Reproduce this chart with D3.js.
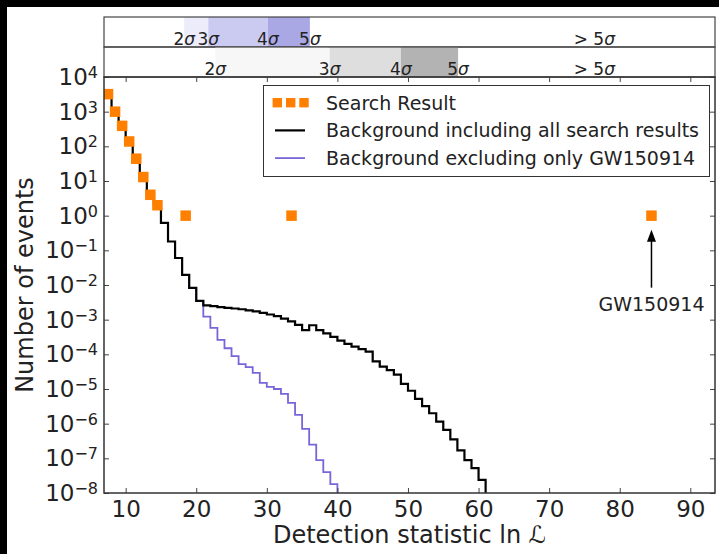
<!DOCTYPE html>
<html>
<head>
<meta charset="utf-8">
<script src="https://cdn.jsdelivr.net/npm/d3@7"></script>
<style>
  html, body { margin: 0; padding: 0; background: #000; }
  svg { display: block; font-family: "DejaVu Sans", sans-serif; }
</style>
</head>
<body>
<svg id="chart" width="719" height="554"></svg>
<script>
// search result counts, one per bin centre (ln L)
const searchX = [7.5, 8.5, 9.5, 10.5, 11.5, 12.5, 13.5, 14.5, 18.5, 33.5, 84.5];
const searchN = [3200, 1000, 390, 138, 44, 13, 4, 2, 1, 1, 1];

// background, unit-width bins starting at ln L = 7
const bgAllStart = 7;
const bgAll = [
  3.2e3, 1.0e3, 3.9e2, 1.4e2, 44, 13, 4.0, 2.0,
  0.62, 0.18, 6.0e-2, 1.95e-2, 8.3e-3, 3.5e-3, 2.6e-3, 2.45e-3,
  2.3e-3, 2.2e-3, 2.1e-3, 2.0e-3, 1.86e-3, 1.74e-3, 1.58e-3, 1.41e-3,
  1.26e-3, 1.07e-3, 8.9e-4, 7.1e-4, 5.0e-4, 6.9e-4, 5.0e-4, 4.0e-4,
  3.2e-4, 2.5e-4, 2.0e-4, 1.66e-4, 1.41e-4, 1.2e-4, 6.3e-5, 4.4e-5,
  3.5e-5, 2.6e-5, 1.4e-5, 8.9e-6, 5.2e-6, 3.2e-6, 2.0e-6, 1.15e-6,
  6.6e-7, 3.5e-7, 1.7e-7, 8.9e-8, 5.2e-8, 2.4e-8
];

// background with GW150914 removed, bins starting at ln L = 18
const bgNoGWStart = 18;
const bgNoGW = [
  1.95e-2, 8.3e-3, 3.5e-3, 1.23e-3, 5.8e-4, 2.6e-4, 1.5e-4, 8.9e-5,
  5.2e-5, 4.3e-5, 2.9e-5, 1.5e-5, 1.15e-5, 1.0e-5, 7.2e-6, 4.0e-6,
  1.8e-6, 7.1e-7, 2.5e-7, 8.9e-8, 4.0e-8, 1.8e-8
];

// significance thresholds in ln L for 2, 3, 4, 5 sigma
const sigmaLabels = ["2σ", "3σ", "4σ", "5σ"];
const sigmaNoGW = [18.3, 21.7, 30.15, 36.1];
const sigmaAll = [22.7, 38.9, 49.0, 57.1];
const beyondLabelX = 76.4;

const xTicks = [10, 20, 30, 40, 50, 60, 70, 80, 90];
const yExps = d3.range(-8, 5);

const W = 719, H = 554;
const margin = {left: 104, right: 4, top: 77, bottom: 61};
const plotR = W - margin.right, plotB = H - margin.bottom;
const bandH = 30;

const svg = d3.select("#chart");
svg.append("rect").attr("x", 7).attr("y", 7).attr("width", W - 7).attr("height", H - 7).attr("fill", "#fff");

const x = d3.scaleLinear().domain([6.93, 93.5]).range([margin.left, plotR]);
const y = d3.scaleLog().domain([1e-8, 1e4]).range([plotB, margin.top]);

// sigma bands above the plot
const bands = [
  {top: margin.top - 2 * bandH, th: sigmaNoGW, fills: ["#ececfa", "#cbcbf2", "#a9a7e4"]},
  {top: margin.top - bandH, th: sigmaAll, fills: ["#f7f7f7", "#dedede", "#b3b3b3"]}
];
bands.forEach(b => {
  const g = svg.append("g");
  g.selectAll("rect.shade")
    .data(b.th.slice(0, 3))
    .enter().append("rect")
      .attr("x", (d) => x(d))
      .attr("y", b.top)
      .attr("width", (d, i) => x(b.th[i + 1]) - x(d))
      .attr("height", bandH)
      .attr("fill", (d, i) => b.fills[i]);
  g.append("rect")
    .attr("x", margin.left).attr("y", b.top)
    .attr("width", plotR - margin.left).attr("height", bandH)
    .attr("fill", "none").attr("stroke", "#444").attr("stroke-width", 1.2);
  const lab = b.th.map((t, i) => ({x: t, s: sigmaLabels[i]})).concat([{x: beyondLabelX, s: "> 5σ"}]);
  lab.forEach(l => {
    const t = g.append("text")
      .attr("x", x(l.x)).attr("y", b.top + bandH - 2)
      .attr("text-anchor", "middle").attr("font-size", 17).attr("fill", "#222");
    const m = l.s.match(/^(.*?)(σ)$/);
    t.append("tspan").text(m[1]);
    t.append("tspan").attr("font-style", "italic").text(m[2]);
  });
});

svg.append("defs").append("clipPath").attr("id", "plotclip")
  .append("rect").attr("x", margin.left).attr("y", margin.top)
  .attr("width", plotR - margin.left).attr("height", plotB - margin.top);

// step path for a binned series, dropping to the floor after the last bin
function stepPath(start, vals) {
  let d = "";
  vals.forEach((v, i) => {
    const x0 = x(start + i), x1 = x(start + i + 1), yy = y(v);
    d += (i === 0 ? "M" : "L") + x0 + "," + yy + "L" + x1 + "," + yy;
  });
  d += "L" + x(start + vals.length) + "," + (plotB + 5);
  return d;
}

const plot = svg.append("g").attr("clip-path", "url(#plotclip)");
plot.append("path").attr("d", stepPath(bgNoGWStart, bgNoGW))
  .attr("fill", "none").attr("stroke", "#7766d8").attr("stroke-width", 1.8);
plot.append("path").attr("d", stepPath(bgAllStart, bgAll))
  .attr("fill", "none").attr("stroke", "#000").attr("stroke-width", 2.2);

const sq = 10.5;
plot.selectAll("rect.pt")
  .data(searchX.map((v, i) => ({x: v, n: searchN[i]})))
  .enter().append("rect")
    .attr("x", d => x(d.x) - sq / 2)
    .attr("y", d => y(d.n) - sq / 2)
    .attr("width", sq).attr("height", sq)
    .attr("fill", "#ff7f00");

// axes: inward ticks on all four sides
const gx = svg.append("g").attr("transform", `translate(0,${plotB})`)
  .call(d3.axisBottom(x).tickValues(xTicks).tickSize(-5).tickPadding(8));
gx.selectAll("text").attr("font-size", 23).attr("fill", "#222").attr("font-family", "DejaVu Sans");
svg.append("g").attr("transform", `translate(0,${margin.top})`)
  .call(d3.axisTop(x).tickValues(xTicks).tickSize(-5).tickFormat(""));

const gy = svg.append("g").attr("transform", `translate(${margin.left},0)`)
  .call(d3.axisLeft(y).tickValues(yExps.map(e => Math.pow(10, e))).tickSize(-5).tickPadding(6));
gy.selectAll(".tick text").each(function(d) {
  const e = Math.round(Math.log10(d));
  const t = d3.select(this).text(null)
    .attr("font-size", 23).attr("fill", "#222").attr("font-family", "DejaVu Sans");
  t.append("tspan").text("10");
  t.append("tspan").attr("dy", -7).attr("font-size", 16).text(e < 0 ? "\u2212" + (-e) : e);
});
svg.append("g").attr("transform", `translate(${plotR},0)`)
  .call(d3.axisRight(y).tickValues(yExps.map(e => Math.pow(10, e))).tickSize(-5).tickFormat(""));
svg.selectAll(".domain").remove();
svg.selectAll(".tick line").attr("stroke", "#444");

svg.append("rect")
  .attr("x", margin.left).attr("y", margin.top)
  .attr("width", plotR - margin.left).attr("height", plotB - margin.top)
  .attr("fill", "none").attr("stroke", "#333").attr("stroke-width", 1.5);

// axis titles
svg.append("text")
  .attr("x", (margin.left + plotR) / 2).attr("y", 543)
  .attr("text-anchor", "middle").attr("font-size", 24).attr("fill", "#222")
  .text("Detection statistic ln ℒ");
svg.append("text")
  .attr("transform", `translate(33,${(margin.top + plotB) / 2}) rotate(-90)`)
  .attr("text-anchor", "middle").attr("font-size", 24).attr("fill", "#222")
  .text("Number of events");

// annotation for the loudest event
const gwX = x(searchX[searchX.length - 1]);
const tipY = y(searchN[searchN.length - 1]) + 14;
svg.append("line").attr("x1", gwX).attr("x2", gwX).attr("y1", tipY + 10).attr("y2", tipY + 58)
  .attr("stroke", "#000").attr("stroke-width", 1.5);
svg.append("path")
  .attr("d", `M${gwX},${tipY}L${gwX - 4.5},${tipY + 12}L${gwX + 4.5},${tipY + 12}Z`)
  .attr("fill", "#000");
svg.append("text").attr("x", gwX).attr("y", tipY + 81)
  .attr("text-anchor", "middle").attr("font-size", 19).attr("fill", "#222")
  .text("GW150914");

// legend
const lg = svg.append("g");
lg.append("rect").attr("x", 263.5).attr("y", 85.5).attr("width", 446).attr("height", 91)
  .attr("fill", "#fff").attr("stroke", "#333").attr("stroke-width", 1);
const legendItems = [
  {label: "Search Result", kind: "sq", color: "#ff7f00"},
  {label: "Background including all search results", kind: "line", color: "#000", w: 2.2},
  {label: "Background excluding only GW150914", kind: "line", color: "#7766d8", w: 1.8}
];
legendItems.forEach((it, i) => {
  const cy = 102.7 + i * 27.7;
  if (it.kind === "sq") {
    [277.3, 290.7, 304].forEach(cx => lg.append("rect")
      .attr("x", cx - 4.7).attr("y", cy - 4.7).attr("width", 9.4).attr("height", 9.4)
      .attr("fill", it.color));
  } else {
    lg.append("line").attr("x1", 275).attr("x2", 305).attr("y1", cy).attr("y2", cy)
      .attr("stroke", it.color).attr("stroke-width", it.w);
  }
  lg.append("text").attr("x", 326).attr("y", cy + 7)
    .attr("font-size", 19).attr("fill", "#222").text(it.label);
});
</script>
</body>
</html>
